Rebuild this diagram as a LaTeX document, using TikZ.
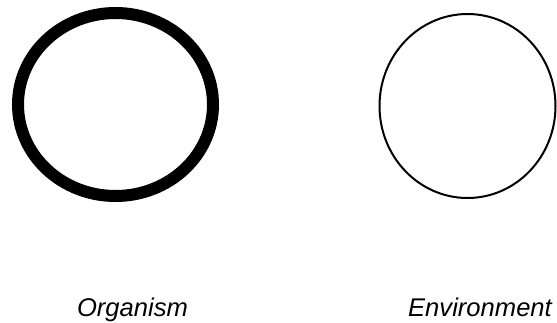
\documentclass[tikz,border=0pt]{standalone}
\usepackage{fontspec}
\setmainfont{Liberation Sans}
\usetikzlibrary{shapes.geometric}
\begin{document}
\begin{tikzpicture}[
  x=0.5pt,y=-0.5pt,
  ring/.style={draw=black,ellipse,inner sep=0pt},
  label/.style={font=\fontsize{12.8}{15}\selectfont\itshape,text=black,anchor=base},
]
\useasboundingbox (0,0) rectangle (557,322);
\node[ring,line width=6pt,minimum width=97.5pt,minimum height=91.5pt] (organism) at (115.5,104.5) {};
\node[ring,line width=1pt,minimum width=88pt,minimum height=92pt] (environment) at (467.5,106) {};
\node[label] (orglabel) at (132.5,316) {Organism};
\node[label] (envlabel) at (480,316) {Environment};
\end{tikzpicture}
\end{document}
